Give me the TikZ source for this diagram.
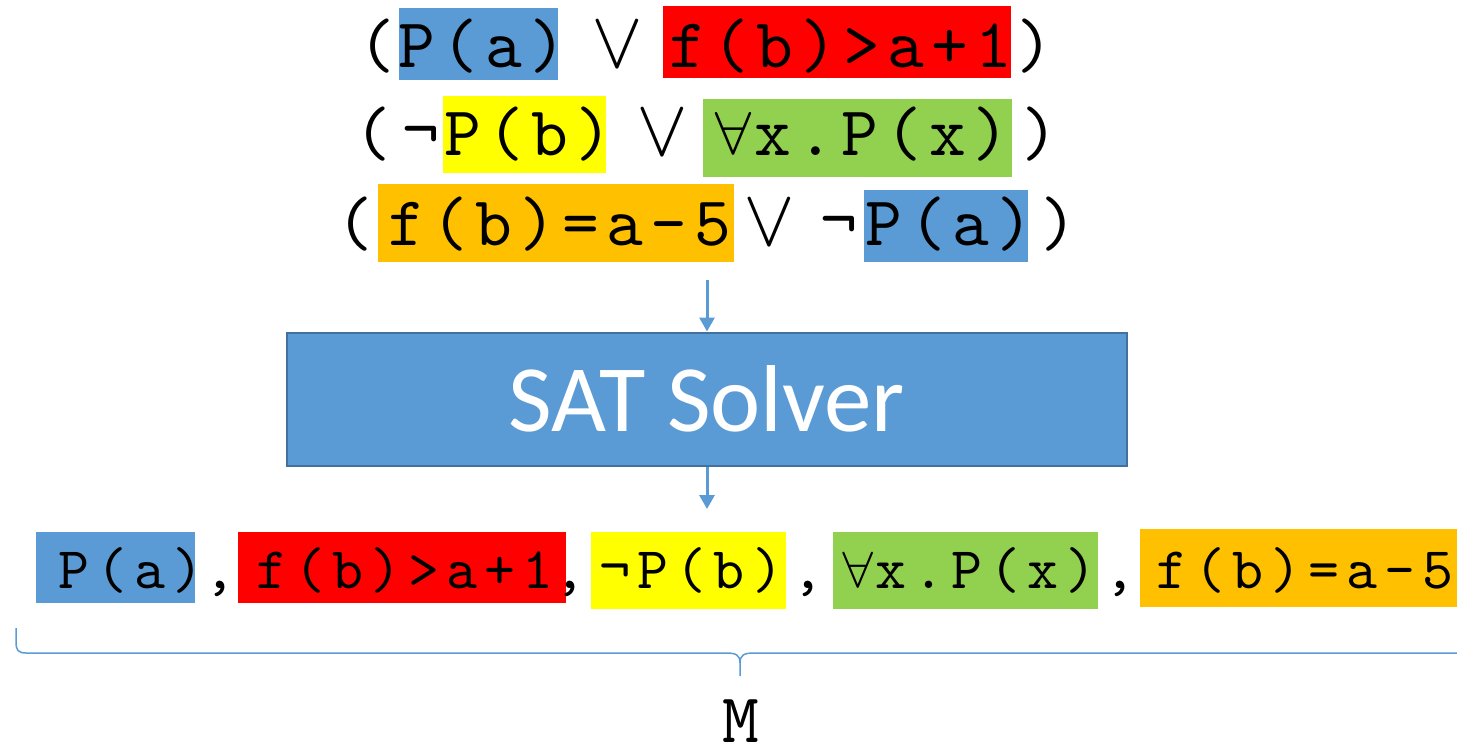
\documentclass[tikz,border=0pt]{standalone}
\usepackage{fontspec}
\usepackage{xcolor}
\usepackage{tikz}
\usetikzlibrary{arrows.meta, positioning, calc}

\newfontfamily\ttbig{lmmono10-regular.otf}[LetterSpace=10]
\newfontfamily\ttsmall{lmmono10-regular.otf}[LetterSpace=12]
\newfontfamily\symf{latinmodern-math.otf}[Scale=0.9]
\newfontfamily\orf{latinmodern-math.otf}[Scale=1.15]
\newfontfamily\satf{Carlito}

\definecolor{hblue}{RGB}{91,155,213}
\definecolor{hred}{RGB}{255,0,0}
\definecolor{hyellow}{RGB}{255,255,0}
\definecolor{hgreen}{RGB}{146,208,80}
\definecolor{horange}{RGB}{255,192,0}
\definecolor{satedge}{RGB}{65,113,156}

\newcommand{\bigtt}{\ttbig\fontsize{70pt}{78pt}\selectfont}
\newcommand{\smalltt}{\ttsmall\fontsize{59pt}{66pt}\selectfont}
\newcommand{\hcell}[1]{\makebox[0pt]{\hspace*{0.1em}#1}}
\newcommand{\orsym}{{\orf ∨}}
\newcommand{\allsym}{{\symf ∀}}

\begin{document}
\begin{tikzpicture}[x=1pt, y=-1pt,
  hl/.style={inner sep=0pt, anchor=base},
  bigterm/.style={font=\bigtt},
  smallterm/.style={font=\smalltt},
  plain/.style={inner sep=0pt, anchor=base},
  solver/.style={fill=hblue, draw=satedge, line width=2pt, minimum width=840pt,
    minimum height=133pt, text=white, font=\satf\fontsize{95pt}{100pt}\selectfont},
  flow/.style={draw=hblue, line width=3pt, -{Triangle[length=14pt,width=15pt]}},
  brace/.style={draw=hblue, line width=1.5pt}]
  \useasboundingbox (0,0) rectangle (1457,755);

  % Clause 1
  \node[plain, bigterm] (lp1) at (377,67) {(};
  \node[hl, bigterm, fill=hblue, minimum width=159pt, text height=59pt, text depth=13pt] (pa1) at (478.5,67) {\hcell{P(a)}};
  \node[plain, bigterm] (or1) at (617,67) {\orsym};
  \node[hl, bigterm, fill=hred, minimum width=348pt, text height=61pt, text depth=11pt] (fb1) at (837,67) {\hcell{f(b)>a+1}};
  \node[plain, bigterm] (rp1) at (1035,67) {)};

  % Clause 2
  \node[plain, bigterm] (lp2) at (373,155) {(};
  \node[plain, bigterm] (not2) at (421,155) {¬};
  \node[hl, bigterm, fill=hyellow, minimum width=163pt, text height=59pt, text depth=18pt] (pb2) at (524.5,155) {\hcell{P(b)}};
  \node[plain, bigterm] (or2) at (662,155) {\orsym};
  \node[hl, bigterm, fill=hgreen, minimum width=309pt, text height=56pt, text depth=22pt] (px2) at (857.5,155) {\hcell{\allsym x.P(x)}};
  \node[plain, bigterm] (rp2) at (1040,155) {)};

  % Clause 3
  \node[plain, bigterm] (lp3) at (355,245) {(};
  \node[hl, bigterm, fill=horange, minimum width=356pt, text height=61pt, text depth=17pt] (fb3) at (556,245) {\hcell{f(b)=a-5}};
  \node[plain, bigterm] (or3) at (769,245) {\orsym};
  \node[plain, bigterm] (not3) at (839,245) {¬};
  \node[hl, bigterm, fill=hblue, minimum width=164pt, text height=55pt, text depth=17pt] (pa3) at (946,245) {\hcell{P(a)}};
  \node[plain, bigterm] (rp3) at (1059,245) {)};

  % Solver
  \node[solver] (sat) at (707,399) {SAT Solver};
  \coordinate (in) at (707,280);
  \coordinate (out) at (707,509);
  \draw[flow] (in) -- (sat.north);
  \draw[flow] (sat.south) -- (out);

  % Model
  \node[hl, smallterm, fill=hblue, minimum width=159pt, text height=56pt, text depth=15pt] (m1) at (115.5,588) {\hspace*{25pt}\hcell{P(a)}};
  \node[plain, smallterm] (c1) at (220,588) {,};
  \node[hl, smallterm, fill=hred, minimum width=328pt, text height=56pt, text depth=15pt] (m2) at (402,588) {\hcell{f(b)>a+1}};
  \node[plain, smallterm] (c2) at (570,588) {,};
  \node[hl, smallterm, fill=hyellow, minimum width=195pt, text height=56pt, text depth=21pt] (m3) at (688.5,588) {\hcell{¬P(b)}};
  \node[plain, smallterm] (c3) at (808,588) {,};
  \node[hl, smallterm, fill=hgreen, minimum width=265pt, text height=56pt, text depth=21pt] (m4) at (965.5,588) {\hcell{\allsym x.P(x)}};
  \node[plain, smallterm] (c4) at (1120,588) {,};
  \node[hl, smallterm, fill=horange, minimum width=324pt, text height=59pt, text depth=19pt] (m5) at (1302,588) {\hcell{f(b)=a-5}};

  % Brace
  \coordinate (bl) at (16,628);
  \coordinate (bm) at (740,663);
  \coordinate (bt) at (740,676);
  \coordinate (br) at (1470,653);
  \draw[brace] (bl) -- (16,642) .. controls (16,650) and (18,653) .. (26,653) -- (726,653)
    .. controls (736,653) and (740,655) .. (bm) -- (bt);
  \draw[brace] (bm) .. controls (740,655) and (744,653) .. (754,653) -- (br);
  \node[plain, bigterm] (M) at (741,742) {M};
\end{tikzpicture}
\end{document}
